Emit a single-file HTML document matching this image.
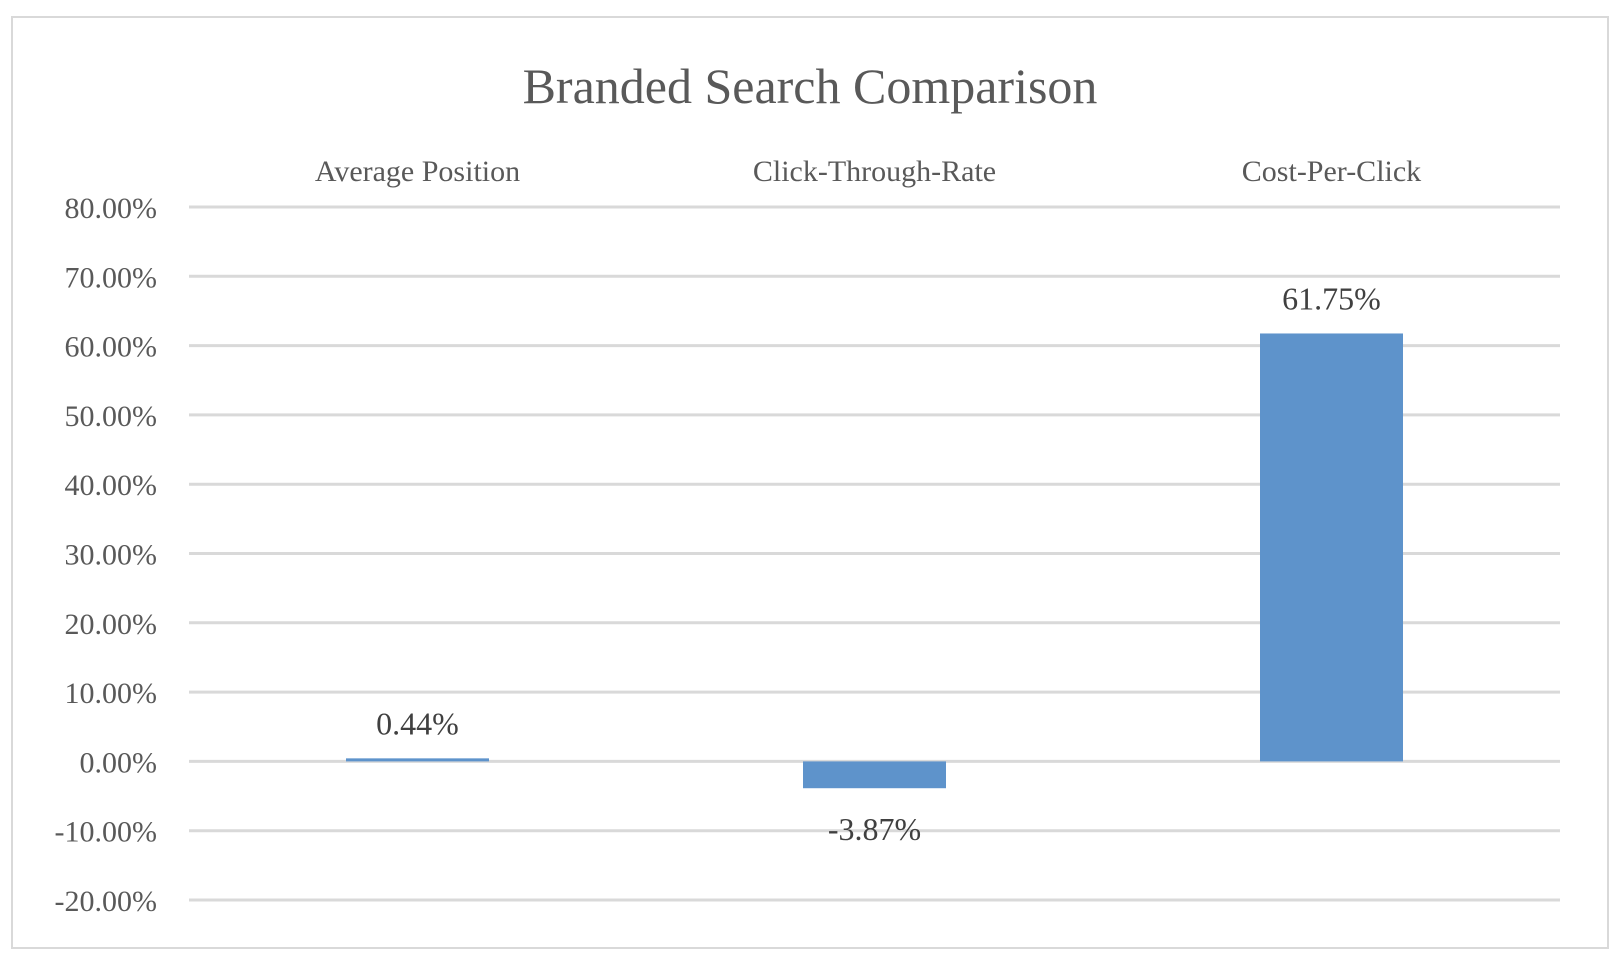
<!DOCTYPE html>
<html><head><meta charset="utf-8"><style>
html,body{margin:0;padding:0;background:#fff;}
svg{display:block;font-family:"Liberation Serif",serif;}
</style></head><body>
<svg width="1622" height="966" viewBox="0 0 1622 966">
<rect x="12" y="17" width="1596" height="931" fill="#fff" stroke="#d9d9d9" stroke-width="2"/>
<text x="810" y="103" text-anchor="middle" font-size="50" fill="#595959">Branded Search Comparison</text>
<g id="grid"></g><g id="ticks"></g><g id="cats"></g><g id="bars"></g><g id="labels"></g>
</svg>
<script>
const categories = ["Average Position","Click-Through-Rate","Cost-Per-Click"];
const values = [0.44, -3.87, 61.75];
const valueLabels = ["0.44%","-3.87%","61.75%"];
const tickValues = [80,70,60,50,40,30,20,10,0,-10,-20];
const tickLabels = ["80.00%","70.00%","60.00%","50.00%","40.00%","30.00%","20.00%","10.00%","0.00%","-10.00%","-20.00%"];

const NS="http://www.w3.org/2000/svg";
const x0=189,x1=1560,yTop=207,yBot=900,vMax=80,vMin=-20;
function y(v){return yTop+(vMax-v)/(vMax-vMin)*(yBot-yTop);}
const band=(x1-x0)/categories.length;
function xc(i){return x0+band*(i+0.5);}
function mk(tag,attrs,parent){const e=document.createElementNS(NS,tag);for(const k in attrs)e.setAttribute(k,attrs[k]);document.getElementById(parent).appendChild(e);return e;}

tickValues.forEach((t,i)=>{
  const l=mk('line',{x1:x0,x2:x1,y1:y(t),y2:y(t),stroke:'#d9d9d9','stroke-width':3},'grid');
  
  
  const tx=mk('text',{x:157,y:y(t)+11,'text-anchor':'end','font-size':30,fill:'#595959'},'ticks');
  tx.textContent=tickLabels[i];
  
  
});
categories.forEach((c,i)=>{
  const t=mk('text',{x:xc(i),y:181,'text-anchor':'middle','font-size':30,fill:'#595959'},'cats');
  t.textContent=c;
  
  
  const v=values[i],bw=143;
  const top=Math.min(y(v),y(0)),h=Math.max(Math.abs(y(v)-y(0)),2);
  const r=mk('rect',{x:xc(i)-bw/2,y:top,width:bw,height:h,fill:'#5e93cb'},'bars');
  
  
  const ly=v>=0?y(v)-24:y(v)+52;
  const lt=mk('text',{x:xc(i),y:ly,'text-anchor':'middle','font-size':32,fill:'#404040'},'labels');
  lt.textContent=valueLabels[i];
  
  
});
</script>
</body></html>
